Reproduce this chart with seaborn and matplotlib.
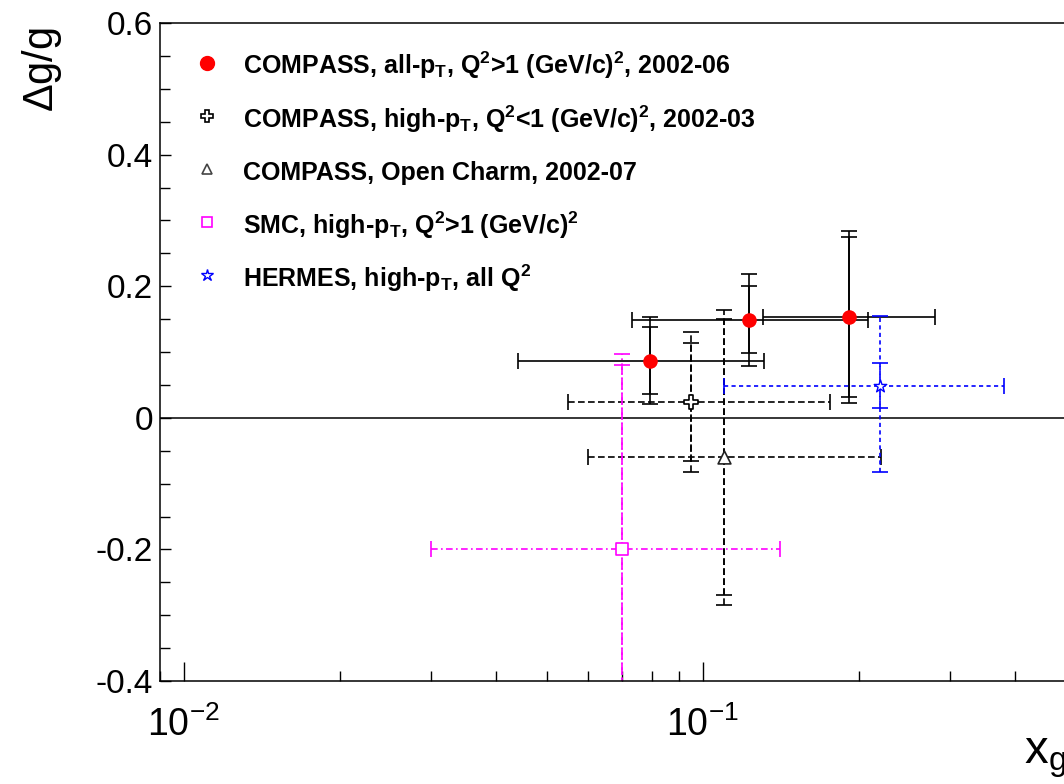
import numpy as np
import pandas as pd
import matplotlib
matplotlib.use("Agg")
import matplotlib.pyplot as plt
import seaborn as sns
from matplotlib.lines import Line2D
from matplotlib.ticker import FixedLocator, FuncFormatter, NullFormatter

# ---------------- data ----------------
# COMPASS, all-pT, Q2>1 (GeV/c)^2, 2002-06 : three x_g bins
cmp_x = [0.079, 0.123, 0.191]
cmp_x_lo = [0.044, 0.073, 0.1305]
cmp_x_hi = [0.131, 0.208, 0.280]
cmp_y = [0.087, 0.149, 0.153]
cmp_stat = [0.051, 0.051, 0.122]
cmp_tot = [0.066, 0.070, 0.131]

# COMPASS, high-pT, Q2<1 (GeV/c)^2, 2002-03
hpt_x = [0.095]
hpt_x_lo = [0.055]
hpt_x_hi = [0.176]
hpt_y = [0.024]
hpt_stat = [0.089]
hpt_tot = [0.106]

# COMPASS, open charm, 2002-07
oc_x = [0.110]
oc_x_lo = [0.060]
oc_x_hi = [0.221]
oc_y = [-0.06]
oc_stat = [0.21]
oc_tot = [0.224]

# SMC, high-pT, Q2>1 (GeV/c)^2
smc_x = [0.070]
smc_x_lo = [0.030]
smc_x_hi = [0.141]
smc_y = [-0.20]
smc_stat = [0.28]
smc_tot = [0.297]

# HERMES, high-pT, all Q2 (asymmetric total error)
her_x = [0.22]
her_x_lo = [0.110]
her_x_hi = [0.381]
her_y = [0.049]
her_stat = [0.034]
her_tot_up = [0.105]
her_tot_dn = [0.131]

y_ticks = [-0.4, -0.2, 0.0, 0.2, 0.4, 0.6]
y_tick_labels = ["-0.4", "-0.2", "0", "0.2", "0.4", "0.6"]
x_major = [0.01, 0.1]

legend_labels = [
    r"COMPASS, all-p$_\mathbf{T}$, Q$^\mathbf{2}$>1 (GeV/c)$^\mathbf{2}$, 2002-06",
    r"COMPASS, high-p$_\mathbf{T}$, Q$^\mathbf{2}$<1 (GeV/c)$^\mathbf{2}$, 2002-03",
    r"COMPASS, Open Charm, 2002-07",
    r"SMC, high-p$_\mathbf{T}$, Q$^\mathbf{2}$>1 (GeV/c)$^\mathbf{2}$",
    r"HERMES, high-p$_\mathbf{T}$, all Q$^\mathbf{2}$",
]

# ---------------- style ----------------
sns.set_theme(style="white")
plt.rcParams.update({
    "font.family": ["Liberation Sans", "DejaVu Sans"],
    "mathtext.fontset": "custom",
    "mathtext.rm": "Liberation Sans",
    "mathtext.it": "Liberation Sans:italic",
    "mathtext.bf": "Liberation Sans:bold",
    "axes.linewidth": 1.1,
    "axes.edgecolor": "black",
    "text.color": "black",
    "axes.labelcolor": "black",
    "xtick.color": "black",
    "ytick.color": "black",
})

W_PX, H_PX = 1064, 784
fig = plt.figure(figsize=(W_PX / 100, H_PX / 100), dpi=100)
fig.patch.set_facecolor("white")

xmin, xmax = 0.009, 0.7
ymin, ymax = -0.4, 0.6
left_px, bottom_px, top_px = 160, 681, 23
dec_px = 519.0
axw_px = dec_px * (np.log10(xmax) - np.log10(xmin))
ax = fig.add_axes([left_px / W_PX, (H_PX - bottom_px) / H_PX,
                   axw_px / W_PX, (bottom_px - top_px) / H_PX])
ax.set_facecolor("white")
ax.set_xscale("log")
ax.set_xlim(xmin, xmax)
ax.set_ylim(ymin, ymax)

ax.axhline(0.0, color="black", lw=1.1, zorder=1)

LW = 1.2
CAP = 5.5


def draw_point(x, xlo, xhi, y, stat, tot_up, tot_dn, color, ls):
    x = np.asarray(x)
    y = np.asarray(y)
    xerr = [x - np.asarray(xlo), np.asarray(xhi) - x]
    outer = ax.errorbar(x, y, xerr=xerr, yerr=[np.asarray(tot_dn), np.asarray(tot_up)],
                        fmt="none", ecolor=color, elinewidth=LW, capsize=CAP,
                        capthick=LW, zorder=2)
    inner = ax.errorbar(x, y, yerr=np.asarray(stat), fmt="none", ecolor=color,
                        elinewidth=LW, capsize=CAP, capthick=LW, zorder=2)
    for eb in (outer, inner):
        for lc in eb[2]:
            lc.set_linestyle(ls)


draw_point(cmp_x, cmp_x_lo, cmp_x_hi, cmp_y, cmp_stat, cmp_tot, cmp_tot, "black", "solid")
draw_point(hpt_x, hpt_x_lo, hpt_x_hi, hpt_y, hpt_stat, hpt_tot, hpt_tot, "black", (0, (4, 2)))
draw_point(oc_x, oc_x_lo, oc_x_hi, oc_y, oc_stat, oc_tot, oc_tot, "black", (0, (4, 2)))
draw_point(smc_x, smc_x_lo, smc_x_hi, smc_y, smc_stat, smc_tot, smc_tot, "magenta", (0, (4, 2, 1, 2)))
draw_point(her_x, her_x_lo, her_x_hi, her_y, her_stat, her_tot_up, her_tot_dn, "blue", (0, (2.5, 2)))

# markers
sns.scatterplot(x=cmp_x, y=cmp_y, marker="o", s=110, color="red", edgecolor="red",
                linewidth=0, ax=ax, zorder=4)
sns.scatterplot(x=hpt_x, y=hpt_y, marker="P", s=90, color="white", edgecolor="black",
                linewidth=1.2, ax=ax, zorder=4)
sns.scatterplot(x=oc_x, y=oc_y, marker="^", s=85, color="white", edgecolor="#222222",
                linewidth=1.2, ax=ax, zorder=4)
sns.scatterplot(x=smc_x, y=smc_y, marker="s", s=75, color="white", edgecolor="magenta",
                linewidth=1.2, ax=ax, zorder=4)
sns.scatterplot(x=her_x, y=her_y, marker="*", s=90, color="white", edgecolor="blue",
                linewidth=1.0, ax=ax, zorder=4)

# ---------------- axes ----------------
ax.yaxis.set_major_locator(FixedLocator(y_ticks))
ax.set_yticklabels(y_tick_labels)
ax.yaxis.set_minor_locator(FixedLocator(np.round(np.arange(-0.4, 0.601, 0.05), 3)))
minor_x = [m * d for d in (0.001, 0.01, 0.1) for m in range(2, 10)]
ax.xaxis.set_major_locator(FixedLocator(x_major))
ax.xaxis.set_minor_locator(FixedLocator(minor_x))
ax.xaxis.set_major_formatter(FuncFormatter(
    lambda v, p: r"$\mathregular{10^{%d}}$" % int(round(np.log10(v)))))
ax.xaxis.set_minor_formatter(NullFormatter())

ax.tick_params(axis="y", which="both", direction="in", left=True, right=False,
               width=1.0, color="black", labelsize=24, pad=5, labelcolor="black")
ax.tick_params(axis="y", which="major", length=8)
ax.tick_params(axis="y", which="minor", length=7.5)
ax.tick_params(axis="x", which="both", direction="in", bottom=True, top=False,
               width=1.0, color="black", labelsize=27, pad=18, labelcolor="black")
ax.tick_params(axis="x", which="major", length=14)
ax.tick_params(axis="x", which="minor", length=7.5)

for s in ("top", "left", "bottom", "right"):
    ax.spines[s].set_visible(True)
    ax.spines[s].set_color("black")
    ax.spines[s].set_linewidth(1.1)

axh_px = bottom_px - top_px
ax.set_ylabel(r"$\Delta$g/g", fontsize=30, loc="top", color="black")
ax.yaxis.set_label_coords((64 - left_px) / axw_px, 1.0 - 4 / axh_px)
ax.set_xlabel(r"x$_\mathregular{g}$", fontsize=34, loc="right", color="black")
ax.xaxis.set_label_coords((1066 - left_px) / axw_px, -(736 - bottom_px) / axh_px)

# ---------------- legend ----------------
handles = [
    Line2D([], [], ls="none", marker="o", ms=10, color="red", mec="red"),
    Line2D([], [], ls="none", marker="P", ms=8.5, mfc="white", mec="black", mew=1.2),
    Line2D([], [], ls="none", marker="^", ms=7.5, mfc="white", mec="#444444", mew=1.2),
    Line2D([], [], ls="none", marker="s", ms=7.5, mfc="white", mec="magenta", mew=1.2),
    Line2D([], [], ls="none", marker="*", ms=9, mfc="white", mec="blue", mew=1.0),
]
ax.legend(handles, legend_labels, loc="upper left",
          bbox_to_anchor=(194.5 / W_PX, 1 - 50 / H_PX), bbox_transform=fig.transFigure,
          frameon=False, prop={"size": 18, "weight": "bold"}, labelcolor="black",
          handlelength=1.0, handleheight=1.5, handletextpad=0.94, labelspacing=0.88,
          borderpad=0, borderaxespad=0)

fig.savefig("out.png", dpi=100, facecolor="white")
